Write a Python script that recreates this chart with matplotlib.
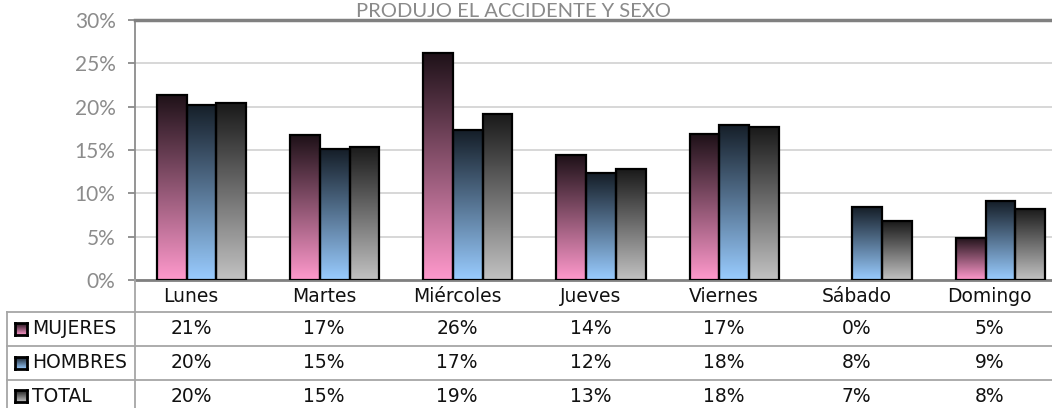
import matplotlib
matplotlib.use("Agg")
import matplotlib.pyplot as plt
import matplotlib.transforms as mtrans
from matplotlib.colors import LinearSegmentedColormap
from matplotlib.lines import Line2D
import numpy as np

dias = ["Lunes", "Martes", "Miércoles", "Jueves", "Viernes", "Sábado", "Domingo"]
series = ["MUJERES", "HOMBRES", "TOTAL"]
mujeres = [21.4, 16.7, 26.2, 14.4, 16.8, 0.0, 4.9]
hombres = [20.2, 15.1, 17.3, 12.3, 17.9, 8.4, 9.1]
total = [20.4, 15.4, 19.1, 12.8, 17.6, 6.8, 8.2]
valores = [mujeres, hombres, total]
titulo = "PRODUJO EL ACCIDENTE Y SEXO"

# gradients: light at bottom, dark at top
colores = [("#ff99cc", "#1e1118"), ("#99ccff", "#151e28"), ("#c2c2c2", "#1a1a1a")]
cmaps = [LinearSegmentedColormap.from_list("g%d" % i, c) for i, c in enumerate(colores)]

W, H = 1052, 408
fig = plt.figure(figsize=(W / 100, H / 100), dpi=100)
L, R, B, T = 135, 1067, 280, 20
ax = fig.add_axes([L / W, (H - B) / H, (R - L) / W, (B - T) / H])

n = len(dias)
x = np.arange(n)
bw = 0.223
grad = np.linspace(0, 1, 256).reshape(-1, 1)
for k, vals in enumerate(valores):
    pos = x + (k - 1) * bw
    bars = ax.bar(pos, vals, width=bw, facecolor="none", edgecolor="black",
                  linewidth=1.6, zorder=3)
    for b, v in zip(bars, vals):
        if v == 0:
            b.set_visible(False)
            continue
        im = ax.imshow(grad, extent=[b.get_x(), b.get_x() + b.get_width(), 0, v],
                       origin="lower", aspect="auto", cmap=cmaps[k], zorder=2)
        im.set_clip_path(b)

ax.set_xlim(-0.5, n - 0.5)
ax.set_ylim(0, 30)
ax.set_yticks(np.arange(0, 31, 5))
ax.set_yticklabels(["%d%%" % t for t in range(0, 31, 5)], fontsize=15,
                   color="#8c8c8c", family="Lato")
ax.set_xticks([])
ax.tick_params(axis="y", direction="out", length=5, width=1.2, color="#808080", pad=9)
ax.yaxis.grid(True, color="#d4d4d4", linewidth=1.3)
ax.set_axisbelow(True)
ax.spines["right"].set_visible(False)
ax.spines["top"].set_color("#808080")
ax.spines["top"].set_linewidth(2.5)
ax.spines["left"].set_color("#8c8c8c")
ax.spines["left"].set_linewidth(1.3)
ax.spines["bottom"].set_color("#808080")
ax.spines["bottom"].set_linewidth(2.0)

fig.text(513 / W, (H - 17) / H, titulo, ha="center", va="baseline",
         fontsize=14.5, color="#8a8a8a", family="Lato")

# data table under the axis
tr = mtrans.blended_transform_factory(ax.transData, fig.transFigure)
dx = -0.08
for i, d in enumerate(dias):
    ax.text(i + dx, (H - 296) / H, d, transform=tr, ha="center", va="center",
            fontsize=13.5, color="#111111", clip_on=False)
filas_y = [329, 363, 396]
for k, vals in enumerate(valores):
    for i, v in enumerate(vals):
        ax.text(i + dx, (H - filas_y[k]) / H, "%.0f%%" % v, transform=tr,
                ha="center", va="center", fontsize=13.5, color="#111111", clip_on=False)
    fig.text(32 / W, (H - filas_y[k]) / H, series[k], ha="left", va="center",
             fontsize=13.5, color="#111111")
    kax = fig.add_axes([15 / W, (H - filas_y[k] - 6) / H, 12 / W, 12 / H])
    kax.imshow(grad, origin="lower", aspect="auto", cmap=cmaps[k])
    kax.set_xticks([])
    kax.set_yticks([])
    for s in kax.spines.values():
        s.set_linewidth(2)
        s.set_color("black")

gris = "#a6a6a6"
for yy in [312, 346, 380]:
    fig.add_artist(Line2D([7 / W, 1], [(H - yy) / H] * 2, transform=fig.transFigure,
                          color=gris, linewidth=1.3))
fig.add_artist(Line2D([L / W, L / W], [0, (H - B) / H], transform=fig.transFigure,
                      color=gris, linewidth=1.3))
fig.add_artist(Line2D([7 / W, 7 / W], [0, (H - 312) / H], transform=fig.transFigure,
                      color=gris, linewidth=1.3))

fig.savefig("out.png", dpi=100)
